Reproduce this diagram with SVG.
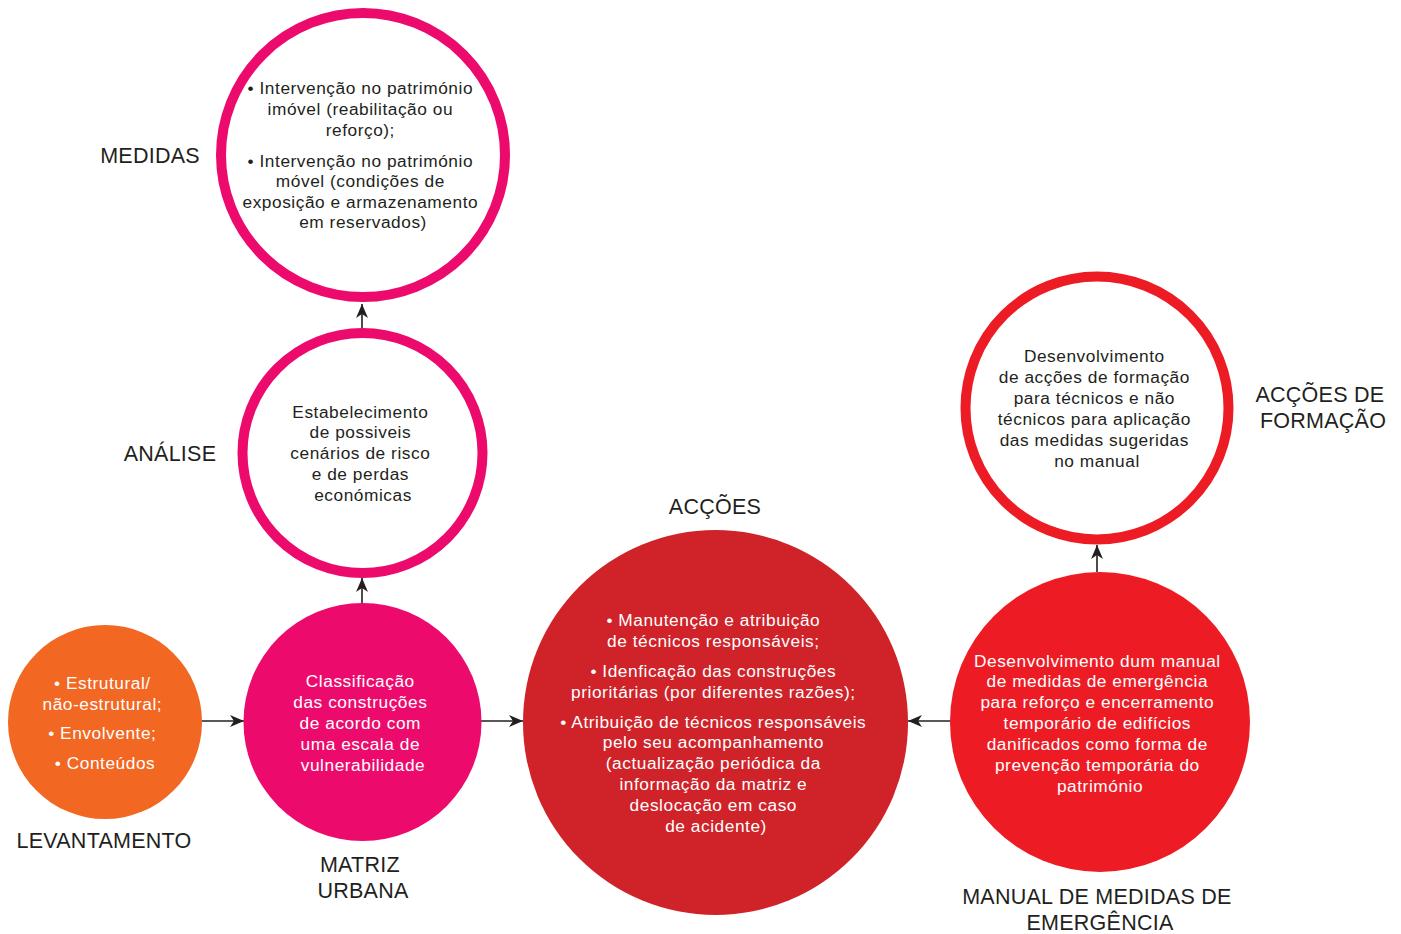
<svg xmlns="http://www.w3.org/2000/svg" width="1401" height="934" viewBox="0 0 1401 934">
  <defs>
    <marker id="arrow" markerUnits="userSpaceOnUse" markerWidth="14" markerHeight="12" refX="14" refY="6" orient="auto">
      <path d="M0,0 L14,6 L0,12 L4,6 Z" fill="#231F20"/>
    </marker>
    <style>
      .inner { font-family: "Liberation Sans", Arial, sans-serif; font-size: 17.3px; text-anchor: middle; letter-spacing: 0.55px; }
      .dark { fill: #231F20; }
      .light { fill: #FFFFFF; }
      .label { font-family: "Liberation Sans", Arial, sans-serif; font-size: 21.5px; fill: #231F20; text-anchor: middle; letter-spacing: 0.25px; }
      .ring { fill: #FFFFFF; stroke-width: 10; }
      .conn { stroke: #231F20; stroke-width: 1.6; fill: none; marker-end: url(#arrow); }
    </style>
  </defs>
  <rect width="1401" height="934" fill="#FFFFFF"/>

  <!-- connectors -->
  <g id="connectors">
    <line class="conn" x1="202" y1="721" x2="244" y2="721"/>
    <line class="conn" x1="481" y1="721" x2="523" y2="721"/>
    <line class="conn" x1="362" y1="603" x2="362" y2="578"/>
    <line class="conn" x1="362" y1="328" x2="362" y2="304"/>
    <line class="conn" x1="950" y1="721" x2="908" y2="721"/>
    <line class="conn" x1="1097" y1="572" x2="1097" y2="545"/>
  </g>

  <!-- survey -->
  <g id="levantamento">
    <circle cx="105" cy="722" r="97" fill="#F26722"/>
    <text class="inner light">
      <tspan x="105" y="689">• Estrutural/</tspan>
      <tspan x="105" y="710">não-estrutural;</tspan>
      <tspan x="105" y="739">• Envolvente;</tspan>
      <tspan x="105" y="769">• Conteúdos</tspan>
    </text>
    <text class="label" x="104" y="848">LEVANTAMENTO</text>
  </g>

  <!-- urban matrix -->
  <g id="matriz">
    <circle cx="362.5" cy="722" r="119" fill="#EC0B6D"/>
    <text class="inner light">
      <tspan x="363" y="687">Classificação</tspan>
      <tspan x="363" y="708">das construções</tspan>
      <tspan x="363" y="729">de acordo com</tspan>
      <tspan x="363" y="750">uma escala de</tspan>
      <tspan x="363" y="771">vulnerabilidade</tspan>
    </text>
    <text class="label">
      <tspan x="363" y="872">MATRIZ</tspan>
      <tspan x="363" y="898">URBANA</tspan>
    </text>
  </g>

  <!-- analysis -->
  <g id="analise">
    <circle class="ring" cx="362.5" cy="453" r="120" stroke="#EC0B6D"/>
    <text class="inner dark">
      <tspan x="363" y="418">Estabelecimento</tspan>
      <tspan x="363" y="438">de possiveis</tspan>
      <tspan x="363" y="459">cenários de risco</tspan>
      <tspan x="363" y="480">e de perdas</tspan>
      <tspan x="363" y="501">económicas</tspan>
    </text>
    <text class="label" x="170" y="461">ANÁLISE</text>
  </g>

  <!-- measures -->
  <g id="medidas">
    <circle class="ring" cx="363" cy="155" r="142" stroke="#EC0B6D"/>
    <text class="inner dark">
      <tspan x="363" y="94">• Intervenção no património</tspan>
      <tspan x="363" y="115">imóvel (reabilitação ou</tspan>
      <tspan x="363" y="136">reforço);</tspan>
      <tspan x="363" y="167">• Intervenção no património</tspan>
      <tspan x="363" y="187">móvel (condições de</tspan>
      <tspan x="363" y="208">exposição e armazenamento</tspan>
      <tspan x="363" y="228">em reservados)</tspan>
    </text>
    <text class="label" x="150" y="163">MEDIDAS</text>
  </g>

  <!-- actions -->
  <g id="accoes">
    <circle cx="715.5" cy="722.5" r="192.5" fill="#CF2229"/>
    <text class="inner light">
      <tspan x="716" y="626">• Manutenção e atribuição</tspan>
      <tspan x="716" y="647">de técnicos responsáveis;</tspan>
      <tspan x="716" y="677">• Idenficação das construções</tspan>
      <tspan x="716" y="698">prioritárias (por diferentes razões);</tspan>
      <tspan x="716" y="728">• Atribuição de técnicos responsáveis</tspan>
      <tspan x="716" y="748">pelo seu acompanhamento</tspan>
      <tspan x="716" y="769">(actualização periódica da</tspan>
      <tspan x="716" y="790">informação da matriz e</tspan>
      <tspan x="716" y="811">deslocação em caso</tspan>
      <tspan x="716" y="832">de acidente)</tspan>
    </text>
    <text class="label" x="715" y="514">ACÇÕES</text>
  </g>

  <!-- emergency manual -->
  <g id="manual">
    <circle cx="1100" cy="722" r="150" fill="#ED1C24"/>
    <text class="inner light">
      <tspan x="1100" y="667">Desenvolvimento dum manual</tspan>
      <tspan x="1100" y="687">de medidas de emergência</tspan>
      <tspan x="1100" y="708">para reforço e encerramento</tspan>
      <tspan x="1100" y="729">temporário de edifícios</tspan>
      <tspan x="1100" y="750">danificados como forma de</tspan>
      <tspan x="1100" y="771">prevenção temporária do</tspan>
      <tspan x="1100" y="792">património</tspan>
    </text>
    <text class="label">
      <tspan x="1100" y="904">MANUAL DE MEDIDAS DE</tspan>
      <tspan x="1100" y="930">EMERGÊNCIA</tspan>
    </text>
  </g>

  <!-- training actions -->
  <g id="formacao">
    <circle class="ring" cx="1097" cy="408" r="131.5" stroke="#ED1C24" stroke-width="11"/>
    <text class="inner dark">
      <tspan x="1097" y="362">Desenvolvimento</tspan>
      <tspan x="1097" y="383">de acções de formação</tspan>
      <tspan x="1097" y="404">para técnicos e não</tspan>
      <tspan x="1097" y="425">técnicos para aplicação</tspan>
      <tspan x="1097" y="446">das medidas sugeridas</tspan>
      <tspan x="1097" y="467">no manual</tspan>
    </text>
    <text class="label">
      <tspan x="1323" y="402">ACÇÕES DE</tspan>
      <tspan x="1323" y="428">FORMAÇÃO</tspan>
    </text>
  </g>
</svg>
